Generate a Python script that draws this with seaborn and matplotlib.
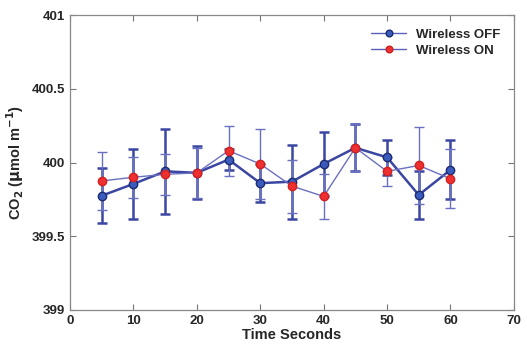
import pandas as pd
import numpy as np
import seaborn as sns
import matplotlib.pyplot as plt

# values
time_s = [5, 10, 15, 20, 25, 30, 35, 40, 45, 50, 55, 60]
co2_off = [399.775, 399.855, 399.94, 399.93, 400.02, 399.86, 399.87, 399.99, 400.10, 400.035, 399.78, 399.95]
err_off = [0.185, 0.235, 0.29, 0.18, 0.07, 0.13, 0.25, 0.22, 0.16, 0.12, 0.16, 0.20]
co2_on = [399.875, 399.90, 399.92, 399.93, 400.08, 399.99, 399.84, 399.77, 400.10, 399.94, 399.98, 399.89]
err_on = [0.195, 0.14, 0.14, 0.17, 0.17, 0.24, 0.18, 0.15, 0.16, 0.10, 0.26, 0.20]

labels = ["Wireless OFF", "Wireless ON"]
line_cols = {"Wireless OFF": "#3a46a2", "Wireless ON": "#6a70c0"}
face_cols = {"Wireless OFF": "#3b5cbf", "Wireless ON": "#ee3030"}
edge_cols = {"Wireless OFF": "#1c2a70", "Wireless ON": "#d02020"}
widths = {"Wireless OFF": 1.8, "Wireless ON": 1.0}

df = pd.concat([
    pd.DataFrame({"t": time_s, "co2": co2_off, "err": err_off, "cond": labels[0]}),
    pd.DataFrame({"t": time_s, "co2": co2_on, "err": err_on, "cond": labels[1]}),
])

sns.set_style("ticks")
plt.rcParams['font.family'] = ['Liberation Sans', 'DejaVu Sans']
plt.rcParams['font.weight'] = 'bold'
plt.rcParams['mathtext.default'] = 'bf'

fig = plt.figure(figsize=(5.27, 3.51), dpi=100)
ax = fig.add_axes([0.133, 0.117, 0.842, 0.840])

for lab in labels:
    sub = df[df["cond"] == lab]
    ax.errorbar(sub["t"], sub["co2"], yerr=sub["err"], fmt="none",
                ecolor=line_cols[lab], elinewidth=widths[lab], capsize=3.5,
                capthick=widths[lab], zorder=2)
    sns.lineplot(data=sub, x="t", y="co2", ax=ax, color=line_cols[lab],
                 linewidth=widths[lab], marker="o", markersize=6,
                 markerfacecolor=face_cols[lab], markeredgecolor=edge_cols[lab],
                 markeredgewidth=1.0, label=lab, zorder=3)

ax.set_xlim(0, 70)
ax.set_ylim(399, 401)
ax.set_xticks(range(0, 71, 10))
ax.set_yticks([399, 399.5, 400, 400.5, 401])
ax.set_yticklabels(["399", "399.5", "400", "400.5", "401"])
ax.tick_params(direction="in", top=True, right=True, length=4, labelsize=9.5,
               color="#777777", width=0.8)
for s in ax.spines.values():
    s.set_color("#888888")
    s.set_linewidth(0.9)

ax.set_xlabel("Time Seconds", fontsize=10.5, fontweight="bold", labelpad=1)
ax.set_ylabel(r"CO$_2$ ($\mu$mol m$^{-1}$)", fontsize=10.5, fontweight="bold", labelpad=4)

leg = ax.legend(loc="upper right", frameon=False, fontsize=9.5, handlelength=2.6,
                borderaxespad=0.6, labelspacing=0.3, markerscale=0.8)
for t in leg.get_texts():
    t.set_fontweight("bold")
for h in leg.get_lines():
    h.set_linewidth(1.0)
    h.set_color("#5a60b8")

fig.savefig("out.png", dpi=100)
